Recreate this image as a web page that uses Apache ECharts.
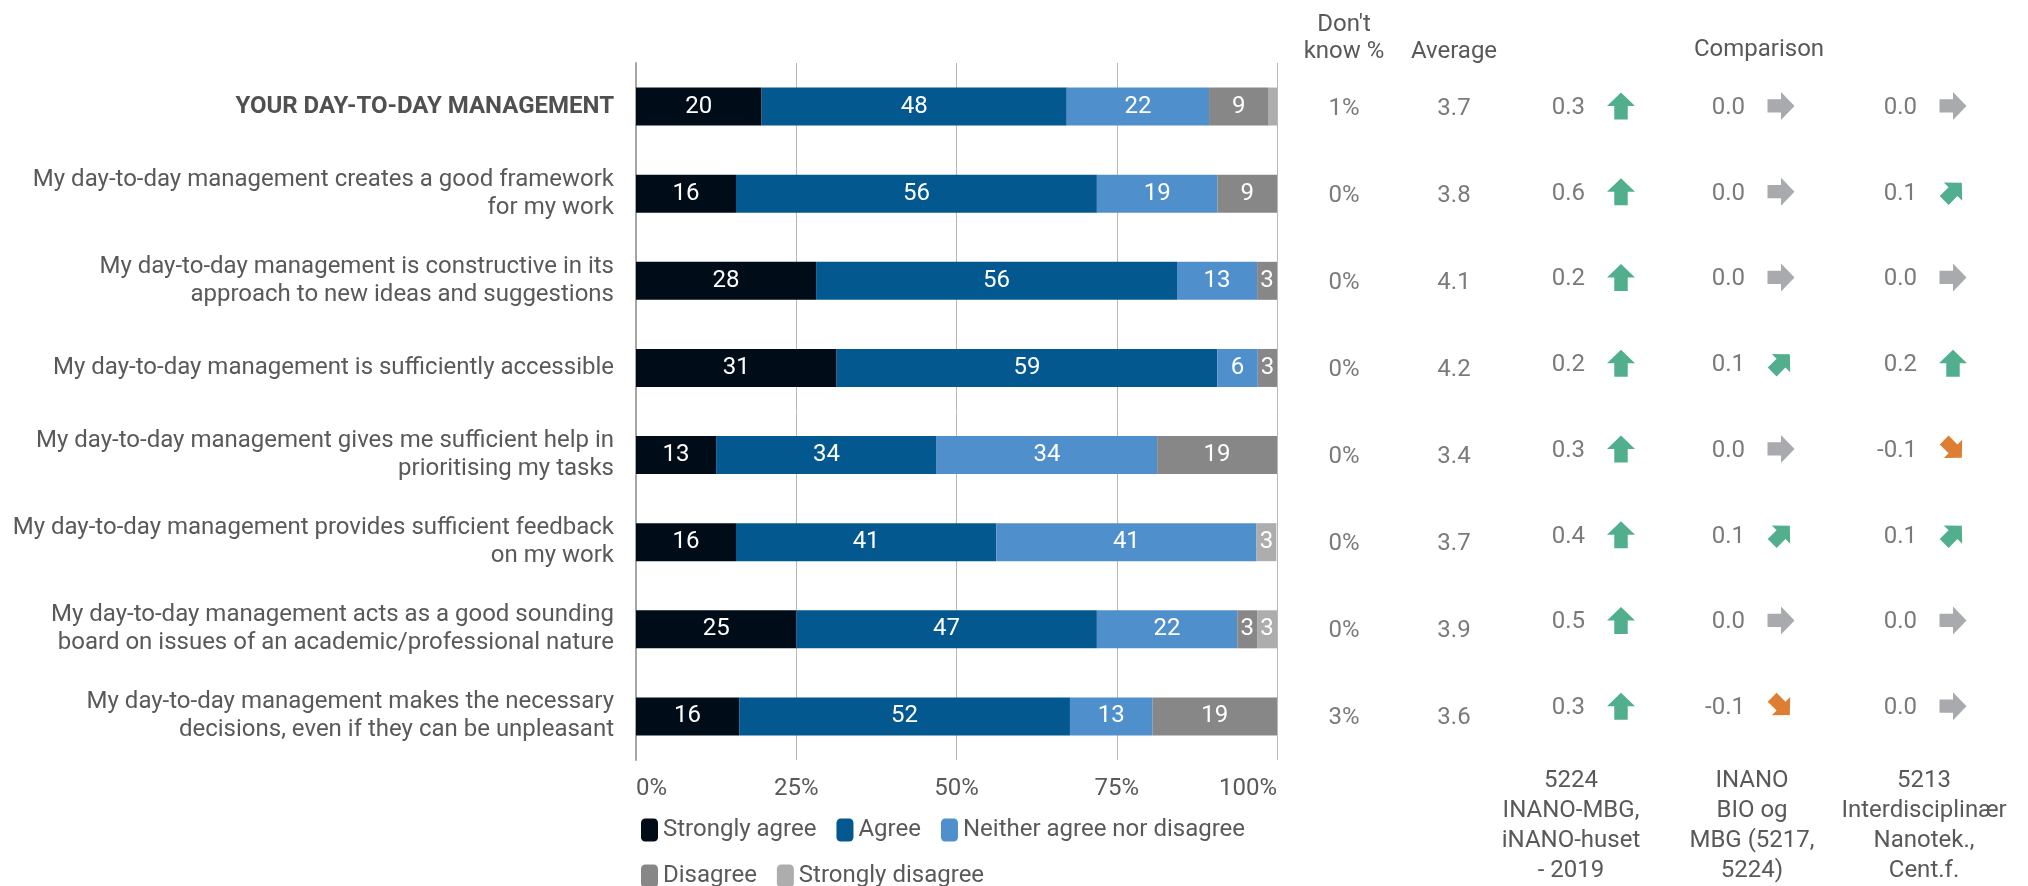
<!DOCTYPE html>
<html>
<head>
<meta charset="utf-8">
<script src="https://cdn.jsdelivr.net/npm/echarts@6/dist/echarts.min.js"></script>
<style>
html,body{margin:0;padding:0;background:#fff;}
#chart{width:2028px;height:886px;}
</style>
</head>
<body>
<div id="chart"></div>
<script>
// ---------- DATA ----------
const categories = [
  'YOUR DAY-TO-DAY MANAGEMENT',
  'My day-to-day management creates a good framework\nfor my work',
  'My day-to-day management is constructive in its\napproach to new ideas and suggestions',
  'My day-to-day management is sufficiently accessible',
  'My day-to-day management gives me sufficient help in\nprioritising my tasks',
  'My day-to-day management provides sufficient feedback\non my work',
  'My day-to-day management acts as a good sounding\nboard on issues of an academic/professional nature',
  'My day-to-day management makes the necessary\ndecisions, even if they can be unpleasant'
];
const seriesNames = ['Strongly agree', 'Agree', 'Neither agree nor disagree', 'Disagree', 'Strongly disagree'];
const stronglyAgree    = [19.6, 15.6, 28.1, 31.3, 12.5, 15.6, 25.0, 16.1];
const agree            = [47.6, 56.3, 56.3, 59.4, 34.4, 40.6, 46.9, 51.6];
const neither          = [22.2, 18.8, 12.5,  6.3, 34.4, 40.6, 21.9, 12.9];
const disagree         = [ 9.3,  9.4,  3.1,  3.1, 18.8,  0.0,  3.1, 19.4];
const stronglyDisagree = [ 1.3,  0.0,  0.0,  0.0,  0.0,  3.1,  3.1,  0.0];

const dontKnow = [1, 0, 0, 0, 0, 0, 0, 3];
const average  = [3.7, 3.8, 4.1, 4.2, 3.4, 3.7, 3.9, 3.6];
const comp1    = [0.3, 0.6, 0.2, 0.2, 0.3, 0.4, 0.5, 0.3];
const comp2    = [0.0, 0.0, 0.0, 0.1, 0.0, 0.1, 0.0, -0.1];
const comp3    = [0.0, 0.1, 0.0, 0.2, -0.1, 0.1, 0.0, 0.0];
const compLabels = [
  '5224\nINANO-MBG,\niNANO-huset\n- 2019',
  'INANO\nBIO og\nMBG (5217,\n5224)',
  '5213\nInterdisciplinær\nNanotek.,\nCent.f.'
];
const headerDontKnow = "Don't\nknow %";
const headerAverage = 'Average';
const headerComparison = 'Comparison';
const xTickValues = [0, 25, 50, 75, 100];

// ---------- STYLE / LAYOUT ----------
const FONT = 'Roboto';
const TXT = '#595959';
const FS = 24;
const barColors = ['#000c18', '#03598f', '#4e8fcc', '#878787', '#adadad'];
const GTOP = 63, GHEIGHT = 697;
const colCenters = { dk: 1344, avg: 1454, c1: 1571, c2: 1752, c3: 1924 };
const compValueRight = [14, -7, -7];
const compArrowOffset = [50, 29, 29];
const ARROW = 'path://M13.5,0 L27,13 L20,13 L20,26 L7,26 L7,13 L0,13 Z';

function arrowStyle(v) {
  const r = Math.round(v * 10);
  if (r >= 2) return { rot: 0, size: [28, 27], color: '#279b72' };
  if (r === 1) return { rot: -45, size: [26, 25], color: '#279b72' };
  if (r === 0) return { rot: -90, size: [28, 27], color: '#939598' };
  if (r === -1) return { rot: -135, size: [26, 25], color: '#d55e00' };
  return { rot: 180, size: [28, 27], color: '#d55e00' };
}

const grids = [
  { left: 636, width: 641, top: GTOP, height: GHEIGHT }
];
const xAxes = [{
  type: 'value', gridIndex: 0, min: 0, max: 100, interval: 25,
  axisLine: { show: false }, axisTick: { show: false },
  splitLine: { show: true, lineStyle: { color: '#b8b8b8', width: 1 } },
  axisLabel: {
    formatter: v => xTickValues.includes(v) ? v + '%' : '',
    fontFamily: FONT, fontSize: FS, color: TXT, margin: 17,
    alignMinLabel: 'left', alignMaxLabel: 'right'
  }
}];
const yAxes = [{
  type: 'category', gridIndex: 0, data: categories, inverse: true,
  axisLine: { show: true, lineStyle: { color: '#a6a6a6', width: 2 } },
  axisTick: { show: false },
  axisLabel: {
    margin: 22, fontFamily: FONT, fontSize: FS, color: TXT, lineHeight: 28, align: 'right',
    formatter: (v, i) => i === 0 ? '{b|' + v + '}' : v,
    rich: { b: { fontFamily: FONT, fontSize: FS, fontWeight: 'bold', color: '#505050', lineHeight: 28 } }
  }
}];

const series = [];
const barData = [stronglyAgree, agree, neither, disagree, stronglyDisagree];
seriesNames.forEach((n, k) => {
  series.push({
    name: n, type: 'bar', stack: 'total', xAxisIndex: 0, yAxisIndex: 0,
    barWidth: 38, data: barData[k],
    itemStyle: { color: barColors[k] },
    label: {
      show: true, position: 'inside', color: '#ffffff', fontFamily: FONT, fontSize: FS,
      formatter: p => p.value >= 2 ? String(Math.round(p.value)) : ''
    },
    emphasis: { disabled: true }
  });
});

function addColumnGrid(center, width, xLabel, labelPos, labelMargin, lineHeight) {
  grids.push({ left: center - width / 2, width: width, top: GTOP, height: GHEIGHT });
  const gi = grids.length - 1;
  xAxes.push({
    type: 'category', gridIndex: gi, data: [xLabel], position: labelPos,
    axisLine: { show: false }, axisTick: { show: false }, splitLine: { show: false },
    axisLabel: { show: true, interval: 0, fontFamily: FONT, fontSize: FS, color: TXT,
      lineHeight: lineHeight, margin: labelMargin, align: 'center' }
  });
  yAxes.push({ type: 'category', gridIndex: gi, data: categories, inverse: true, show: false });
  return gi;
}

// Don't know column
let gi = addColumnGrid(colCenters.dk, 80, headerDontKnow, 'top', -2, 27);
series.push({
  type: 'scatter', xAxisIndex: gi, yAxisIndex: gi, symbolSize: 0,
  data: dontKnow.map((v, i) => [0, i, v]),
  label: { show: true, position: 'inside', offset: [0, 2], fontFamily: FONT, fontSize: FS, color: TXT,
    formatter: p => p.value[2] + '%' }
});
// Average column
gi = addColumnGrid(colCenters.avg, 80, headerAverage, 'top', -2, 27);
series.push({
  type: 'scatter', xAxisIndex: gi, yAxisIndex: gi, symbolSize: 0,
  data: average.map((v, i) => [0, i, v]),
  label: { show: true, position: 'inside', offset: [0, 2], fontFamily: FONT, fontSize: FS, color: TXT,
    formatter: p => p.value[2].toFixed(1) }
});
// Comparison columns
[comp1, comp2, comp3].forEach((arr, k) => {
  const c = [colCenters.c1, colCenters.c2, colCenters.c3][k];
  const g = addColumnGrid(c, 140, compLabels[k], 'bottom', 17, 30);
  series.push({
    type: 'scatter', xAxisIndex: g, yAxisIndex: g, symbolSize: 0,
    data: arr.map((v, i) => [0, i, v]),
    label: { show: true, position: 'inside', align: 'right', offset: [compValueRight[k], 2],
      fontFamily: FONT, fontSize: FS, color: TXT,
      formatter: p => p.value[2].toFixed(1) }
  });
  series.push({
    type: 'scatter', xAxisIndex: g, yAxisIndex: g, symbol: ARROW,
    symbolOffset: [compArrowOffset[k], 0], symbolKeepAspect: false,
    data: arr.map((v, i) => {
      const s = arrowStyle(v);
      return { value: [0, i, v], symbolRotate: s.rot, symbolSize: s.size, itemStyle: { color: s.color } };
    }),
    emphasis: { disabled: true }
  });
});

const legendCommon = {
  orient: 'horizontal', itemWidth: 17, itemHeight: 23, itemGap: 20, icon: 'roundRect',
  textStyle: { fontFamily: FONT, fontSize: FS, color: TXT }, selectedMode: false
};

const option = {
  animation: false,
  textStyle: { fontFamily: FONT },
  grid: grids,
  xAxis: xAxes,
  yAxis: yAxes,
  legend: [
    Object.assign({ left: 636, top: 813, data: seriesNames.slice(0, 3) }, legendCommon),
    Object.assign({ left: 636, top: 859, data: seriesNames.slice(3) }, legendCommon)
  ],
  graphic: [{
    type: 'text', x: 1759, y: 50,
    style: { text: headerComparison, align: 'center', verticalAlign: 'middle',
      font: FS + 'px ' + FONT, fill: TXT }
  }],
  series: series
};

const chart = echarts.init(document.getElementById('chart'));
chart.setOption(option);
</script>
</body>
</html>
